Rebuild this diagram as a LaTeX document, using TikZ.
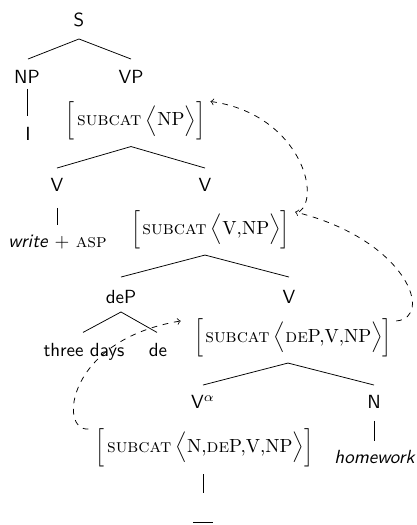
\documentclass[tikz,border=0pt]{standalone}
\usepackage{graphicx}
\usetikzlibrary{calc}
\newcommand{\avmdel}[2]{\vcenter{\hbox{\scalebox{1}[#1]{$#2$}}}}
\newcommand{\avmsc}[1]{$\avmdel{1.12}{\Bigl[}\kern1.2pt\mbox{\textsc{subcat}}\kern2.2pt\avmdel{0.9}{\Bigl\langle}\mbox{#1}\avmdel{0.9}{\Bigr\rangle}\avmdel{1.12}{\Bigr]}$}
\begin{document}
\begin{tikzpicture}[x=0.526pt,y=-0.526pt,
  lab/.style={font=\sffamily, inner sep=0pt, text height=6.94pt, text depth=0pt, anchor=center},
  leaf/.style={font=\sffamily, inner sep=0pt, anchor=base},
  avm/.style={inner sep=0pt},
  dasharrow/.style={->, dashed}]
\useasboundingbox (0,0) rectangle (417,525);
% tree labels
\node[lab] (S) at (79,20) {S};
\node[lab] (NP) at (27,77) {NP};
\node[lab] (VP) at (131,77) {VP};
\node[leaf] (I) at (28,140) {I};
\node[avm] (A1) at (135.5,121) {\avmsc{NP}};
\node[lab] (V1) at (57,185) {V};
\node[lab] (V2) at (205,185) {V};
\node[leaf] (W) at (57.5,247) {\textit{write} + \textsc{asp}};
\node[avm] (A2) at (210.5,229.5) {\avmsc{V,NP}};
\node[lab] (DP) at (121,297) {deP};
\node[lab] (V3) at (289,297) {V};
\node[leaf] (TD) at (84,356) {three days};
\node[leaf] (DE) at (158,356) {de};
\node[avm] (A3) at (293,337.5) {\avmsc{\textsc{de}P,V,NP}};
\node[lab] (VA) at (203,402) {V$^\alpha$};
\node[lab] (N) at (374,402) {N};
\node[leaf] (HW) at (375,463) {\textit{homework}};
\node[avm] (A4) at (204.5,447.5) {\avmsc{N,\textsc{de}P,V,NP}};
\node[inner sep=0pt] (T) at (203,522) {\rule{10.5pt}{0.5pt}};
% branches
\draw ($(S.south)+(0,12)$) -- ($(NP.north)+(1,-11)$);
\draw ($(S.south)+(0,12)$) -- ($(VP.north)+(0,-11)$);
\draw ($(NP.south)+(0,5)$) -- ($(NP.south |- I.north)+(0,-10)$);
\draw ($(VP.south |- A1.south)+(0,6)$) -- ($(V1.north)+(0,-10)$);
\draw ($(VP.south |- A1.south)+(0,6)$) -- ($(V2.north)+(0,-10)$);
\draw ($(V1.south)+(0,16)$) -- ($(V1.south |- W.north)+(0,-9)$);
\draw ($(V2.south |- A2.south)+(0,6)$) -- ($(DP.north)+(0,-13)$);
\draw ($(V2.south |- A2.south)+(0,6)$) -- ($(V3.north)+(0,-13)$);
\draw ($(DP.south)+(0,8)$) -- ($(TD.north)+(-1,-10)$);
\draw ($(DP.south)+(0,8)$) -- ($(DE.north)+(-1,-10)$);
\draw ($(V3.south |- A3.south)+(-1,6)$) -- ($(VA.north)+(0,-10)$);
\draw ($(V3.south |- A3.south)+(-1,6)$) -- ($(N.north)+(0,-10)$);
\draw ($(N.south)+(0,12)$) -- ($(N.south |- HW.north)+(0,-8)$);
\draw ($(VA.south |- A4.south)+(0,7)$) -- ($(VA.south |- T.north)+(0,-28)$);
% dashed arrows
\draw[dasharrow] ($(A2.north east)+(9,2)$) .. controls +(23,-17) and +(87,12) .. ($(A1.north east)+(5,0)$);
\draw[dasharrow] ($(A3.north east)+(4,3)$) .. controls +(38,-3) and +(112,28) .. ($(A2.north east)+(5,2)$);
\draw[dasharrow] ($(A4.north west)+(-7,1)$) .. controls +(-30,3) and +(-115,19) .. ($(A3.north west)+(-13,3)$);
\end{tikzpicture}
\end{document}
